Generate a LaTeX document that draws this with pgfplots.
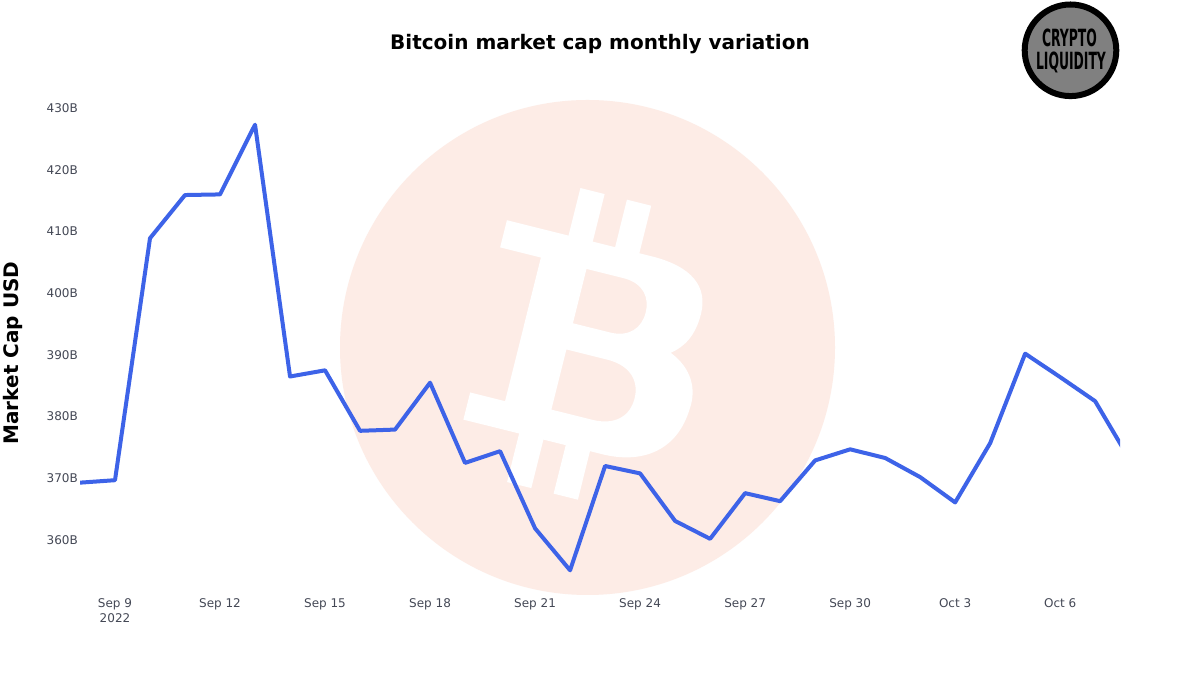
\documentclass[border=0pt]{standalone}
\usepackage{pgfplots}
\pgfplotsset{compat=1.18}
\usepackage{fontspec}
\setmainfont{DejaVu Sans}
\newfontfamily\condfont{DejaVu Sans Condensed}
\definecolor{linec}{RGB}{61,99,232}
\definecolor{tickc}{RGB}{68,72,85}
\definecolor{btcbg}{RGB}{253,236,230}
\definecolor{logogray}{RGB}{128,128,128}
\pgfplotstableread{
d v
0 369.3
1 369.7
2 408.9
3 415.9
4 416.0
5 427.3
6 386.5
7 387.5
8 377.7
9 377.9
10 385.5
11 372.5
12 374.4
13 361.9
14 355.1
15 372.0
16 370.8
17 363.1
18 360.2
19 367.6
20 366.3
21 372.9
22 374.7
23 373.3
24 370.2
25 366.1
26 375.7
27 390.2
28 386.4
29 382.5
30 372.9
}\mcap
\begin{document}
\begin{tikzpicture}[x=1bp,y=1bp]
\path[fill=white] (0,0) rectangle (1200,675);
% bitcoin watermark
\fill[btcbg] (587.5,327.5) circle (247.5);
\begin{scope}[shift={(587.5,327.5)}, rotate=-14]
\fill[white, even odd rule]
 (-109,104) -- (40,104) .. controls (82,104) and (102,88) .. (102,60)
 .. controls (102,38) and (94,24) .. (82,15)
 .. controls (106,5) and (116,-14) .. (114,-35)
 .. controls (112,-78) and (82,-100) .. (40,-100)
 -- (-103,-100) -- (-103,-72) -- (-67,-72) -- (-67,76) -- (-109,76) -- cycle
 (-20,76) -- (18,76) .. controls (40,76) and (48,62) .. (48,48)
 .. controls (48,32) and (38,20) .. (18,20) -- (-20,20) -- cycle
 (-20,-7) -- (22,-7) .. controls (48,-7) and (58,-22) .. (58,-38)
 .. controls (58,-56) and (46,-69) .. (22,-69) -- (-20,-69) -- cycle;
\fill[white] (-45.5,100) rectangle (-20.5,153);
\fill[white] (2.5,100) rectangle (27.5,153);
\fill[white] (-45.5,-96) rectangle (-20.5,-150);
\fill[white] (2.5,-96) rectangle (27.5,-150);
\end{scope}
% logo
\filldraw[fill=logogray, draw=black, line width=6bp] (1070.5,624.7) circle (45.8);
\node[inner sep=0, anchor=center] at (1069.5,637) {\scalebox{0.58}[1]{\condfont\bfseries\fontsize{23.7bp}{24bp}\selectfont CRYPTO}};
\node[inner sep=0, anchor=center] at (1071,613) {\scalebox{0.58}[1]{\condfont\bfseries\fontsize{23.7bp}{24bp}\selectfont LIQUIDITY}};
% title and y label
\node[inner sep=0, anchor=center, font=\bfseries\fontsize{20bp}{22bp}\selectfont] at (600,631) {Bitcoin market cap monthly variation};
\node[inner sep=0, anchor=center, rotate=90, font=\bfseries\fontsize{20bp}{22bp}\selectfont] at (13,322) {Market Cap USD};
\begin{axis}[
  at={(80bp,80bp)}, anchor=south west,
  scale only axis, width=1040bp, height=495bp,
  xmin=0, xmax=29.71, ymin=351.1, ymax=431.3,
  axis line style={draw=none},
  major tick length=0pt,
  xtick={1,4,7,10,13,16,19,22,25,28},
  xticklabels={{Sep 9\\2022},{Sep 12},{Sep 15},{Sep 18},{Sep 21},{Sep 24},{Sep 27},{Sep 30},{Oct 3},{Oct 6}},
  ytick={360,370,380,390,400,410,420,430},
  yticklabels={360B,370B,380B,390B,400B,410B,420B,430B},
  xticklabel style={align=center, inner sep=0pt, yshift=-3bp, text=tickc, font=\fontsize{12bp}{15bp}\selectfont},
  yticklabel style={inner sep=0pt, xshift=-2bp, text=tickc, font=\fontsize{12bp}{15bp}\selectfont},
  clip=true,
]
\addplot[linec, line width=4bp, line join=round] table[x=d, y=v] {\mcap};
\end{axis}
\end{tikzpicture}
\end{document}
